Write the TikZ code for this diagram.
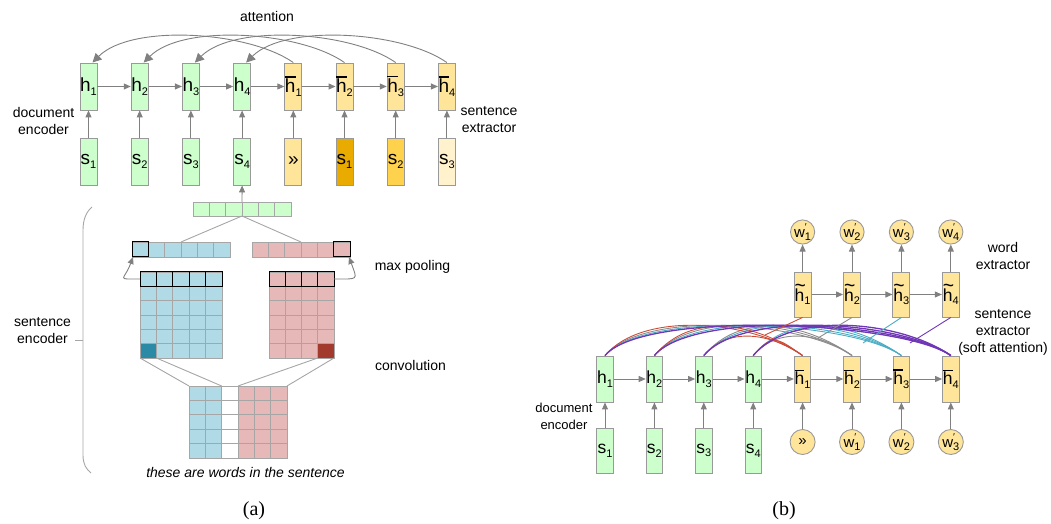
\documentclass[tikz,border=0pt]{standalone}
\usepackage{fontspec}
\setmainfont{Liberation Sans}
\newfontfamily\capfont{Liberation Serif}
\usetikzlibrary{arrows.meta}

\definecolor{boxgreen}{HTML}{CCFFCC}
\definecolor{boxyellow}{HTML}{FFE599}
\definecolor{sdark}{HTML}{E9AB00}
\definecolor{smid}{HTML}{FFD24D}
\definecolor{spale}{HTML}{FFF2CC}
\definecolor{edgegray}{HTML}{999999}
\definecolor{arrgray}{HTML}{808080}
\definecolor{cellgray}{HTML}{A6A6A6}
\definecolor{cellblue}{HTML}{B0DAE6}
\definecolor{cellpink}{HTML}{E6B8B7}
\definecolor{darkteal}{HTML}{2B8AA6}
\definecolor{darkred}{HTML}{A33A2E}
\definecolor{attred}{HTML}{CC4B37}
\definecolor{attgray}{HTML}{8C8C8C}
\definecolor{attcyan}{HTML}{4BACC6}
\definecolor{attpurple}{HTML}{6F36B5}

\newcommand{\lsub}[1]{\raisebox{-0.4ex}{\fontsize{11}{11}\selectfont #1}}
\newcommand{\hh}[1]{h\lsub{#1}}
\newcommand{\hb}[1]{\makebox[0pt][l]{\raisebox{0.8em}{\rule{0.56em}{0.07em}}}h\lsub{#1}}
\newcommand{\hw}[1]{\makebox[0pt][l]{\raisebox{0.5em}{\scalebox{1.1}[1.2]{\textasciitilde}}}h\lsub{#1}}
\newcommand{\sv}[1]{s\lsub{#1}}
\newcommand{\wv}[1]{w\makebox[0pt][l]{\raisebox{0.9ex}{\fontsize{10}{10}\selectfont ′}}\lsub{#1}}

\begin{document}
\begin{tikzpicture}[x=1pt, y=1pt,
    gbox/.style={rectangle, draw=edgegray, line width=0.9pt, fill=boxgreen, minimum width=17, minimum height=47, inner sep=0pt, font=\fontsize{19}{19}\selectfont},
    ybox/.style={gbox, fill=boxyellow},
    rgbox/.style={gbox, minimum width=16.5, minimum height=46, font=\fontsize{17.5}{17.5}\selectfont},
    rybox/.style={rgbox, fill=boxyellow},
    circ/.style={circle, draw=edgegray, line width=0.9pt, fill=boxyellow, minimum size=25, inner sep=0pt, font=\fontsize{15}{15}\selectfont},
    block/.style={rectangle, draw=none, inner sep=0pt, outer sep=0pt},
    lbl/.style={inner sep=0pt, font=\fontsize{14}{17}\selectfont},
    captext/.style={inner sep=0pt, font=\capfont\fontsize{20}{20}\selectfont},
    arr/.style={draw=arrgray, line width=0.9pt, -{Triangle[length=7pt, width=6pt]}},
    bigarr/.style={draw=arrgray, line width=0.9pt, -{Triangle[length=9pt, width=9pt]}},
    ln/.style={draw=cellgray, line width=0.9pt},
    bluecell/.style={draw=cellgray, line width=0.9pt, fill=cellblue},
    pinkcell/.style={draw=cellgray, line width=0.9pt, fill=cellpink},
    greencell/.style={draw=cellgray, line width=0.9pt, fill=boxgreen},
    whitecell/.style={draw=cellgray, line width=0.9pt, fill=white},
    topcell/.style={draw=black, line width=1pt},
    bundle/.style={out=50, in=145, min distance=30, max distance=60},
    redline/.style={draw=attred, line width=0.9pt},
    grayline/.style={draw=attgray, line width=0.9pt},
    cyanline/.style={draw=attcyan, line width=0.9pt},
    purpleline/.style={draw=attpurple, line width=1.3pt}]

    \useasboundingbox (0,0) rectangle (1051,524);

    % (a) document encoder and sentence extractor
    \node[gbox] (11) at (88.5,437.5) {\hh{1}};

    \node[gbox] (12) at (139.7,437.5) {\hh{2}};

    \node[gbox] (13) at (190.9,437.5) {\hh{3}};

    \node[gbox] (14) at (242.1,437.5) {\hh{4}};

    \node[ybox] (15) at (293.3,437.5) {\hb{1}};

    \node[ybox] (16) at (344.5,437.5) {\hb{2}};

    \node[ybox] (17) at (395.7,437.5) {\hb{3}};

    \node[ybox] (18) at (446.9,437.5) {\hb{4}};

    \node[gbox] (21) at (88.5,362.5) {\sv{1}};

    \node[gbox] (22) at (139.7,362.5) {\sv{2}};

    \node[gbox] (23) at (190.9,362.5) {\sv{3}};

    \node[gbox] (24) at (242.1,362.5) {\sv{4}};

    \node[ybox] (25) at (293.3,362.5) {»};

    \node[ybox, fill=sdark] (26) at (344.5,362.5) {\sv{1}};

    \node[ybox, fill=smid] (27) at (395.7,362.5) {\sv{2}};

    \node[ybox, fill=spale] (28) at (446.9,362.5) {\sv{3}};


    \draw[arr] (21) to (11);

    \draw[arr] (22) to (12);

    \draw[arr] (23) to (13);

    \draw[arr] (24) to (14);

    \draw[arr] (25) to (15);

    \draw[arr] (26) to (16);

    \draw[arr] (27) to (17);

    \draw[arr] (28) to (18);

    \draw[arr] (11) to (12);

    \draw[arr] (12) to (13);

    \draw[arr] (13) to (14);

    \draw[arr] (14) to (15);

    \draw[arr] (15) to (16);

    \draw[arr] (16) to (17);

    \draw[arr] (17) to (18);

    % attention
    \draw[bigarr] (15.north) to[out=145, in=45, distance=55] ([xshift=4pt]11.north);

    \draw[bigarr] (16.north) to[out=145, in=45, distance=55] ([xshift=4pt]12.north);

    \draw[bigarr] (17.north) to[out=145, in=45, distance=55] ([xshift=4pt]13.north);

    \draw[bigarr] (18.north) to[out=145, in=45, distance=55] ([xshift=4pt]14.north);

    % (a) sentence encoder
    \foreach \i in {0,...,5}
        \draw[greencell] (193+\i*16.33,308) rectangle ++(16.33,14);

    \foreach \i in {0,...,5}
        \draw[bluecell] (132+\i*16.33,267) rectangle ++(16.33,15);
    \draw[topcell] (132,267) rectangle ++(16.33,15);

    \foreach \i in {0,...,5}
        \draw[pinkcell] (252+\i*16.33,267) rectangle ++(16.33,15);
    \draw[topcell] (333.67,267) rectangle ++(16.33,15);

    \foreach \i in {0,...,4}
        \foreach \j in {0,...,5}
            \draw[bluecell] (140+\i*16.4,166+\j*14.33) rectangle ++(16.4,14.33);
    \draw[ln, fill=darkteal] (140,166) rectangle ++(16.4,14.33);
    \foreach \i in {0,...,4}
        \draw[topcell] (140+\i*16.4,237.67) rectangle ++(16.4,14.33);

    \foreach \i in {0,...,3}
        \foreach \j in {0,...,5}
            \draw[pinkcell] (269+\i*16.25,166+\j*14.33) rectangle ++(16.25,14.33);
    \draw[ln, fill=darkred] (317.75,166) rectangle ++(16.25,14.33);
    \foreach \i in {0,...,3}
        \draw[topcell] (269+\i*16.25,237.67) rectangle ++(16.25,14.33);

    \foreach \i in {0,1}
        \foreach \j in {0,...,4}
            \draw[bluecell] (189+\i*16.33,66+\j*14.4) rectangle ++(16.33,14.4);
    \foreach \j in {0,...,4}
        \draw[whitecell] (221.67,66+\j*14.4) rectangle ++(16.33,14.4);
    \foreach \i in {3,4,5}
        \foreach \j in {0,...,4}
            \draw[pinkcell] (189+\i*16.33,66+\j*14.4) rectangle ++(16.33,14.4);

    \node[block, minimum width=98, minimum height=14] (71) at (242,315) {};

    \node[block, minimum width=98, minimum height=15] (72) at (181,274.5) {};

    \node[block, minimum width=98, minimum height=15] (73) at (301,274.5) {};

    \node[block, minimum width=82, minimum height=86] (74) at (181,209) {};

    \node[block, minimum width=65, minimum height=86] (75) at (301.5,209) {};

    \node[block, minimum width=98, minimum height=72] (76) at (238,102) {};


    \draw[arr] (71.north) to (24.south);

    \draw[ln] (71.south) to (72.north);

    \draw[ln] (71.south) to (73.north);

    \draw[arr] ([yshift=-7pt]74.north west) to[out=180, in=250, min distance=25] ([xshift=1pt]72.south west);

    \draw[arr] ([yshift=-7pt]75.north east) to[out=0, in=290, min distance=25] ([xshift=-1pt]73.south east);

    \draw[ln] (74.south west) to (76.north west);

    \draw[ln] ([xshift=16.4pt]74.south west) to ([xshift=32.67pt]76.north west);

    \draw[ln] ([xshift=-16.25pt]75.south east) to ([xshift=49pt]76.north west);

    \draw[ln] (75.south east) to (76.north east);

    % brace
    \draw[ln] (92,317) .. controls (86,312) and (83,304) .. (83,294) -- (83,69) .. controls (83,60) and (86,55) .. (91,51);
    \draw[ln] (83,184) -- (75,184);

    \node[lbl] (91) at (267,507) {attention};

    \node[lbl, align=center] (92) at (43.5,402.5) {document\\encoder};

    \node[lbl, align=center] (93) at (489,404.5) {sentence\\extractor};

    \node[lbl, align=center] (94) at (42.5,193) {sentence\\encoder};

    \node[lbl] (95) at (412.5,257) {max pooling};

    \node[lbl] (96) at (410.5,159) {convolution};

    \node[lbl, font=\fontsize{14}{17}\selectfont\itshape] (97) at (245.5,51) {these are words in the sentence};

    \node[captext] (98) at (254,13) {(a)};

    % (b) document encoder, sentence and word extractor
    \node[rgbox] (31) at (605,145) {\hh{1}};

    \node[rgbox] (32) at (654.4,145) {\hh{2}};

    \node[rgbox] (33) at (703.8,145) {\hh{3}};

    \node[rgbox] (34) at (753.2,145) {\hh{4}};

    \node[rybox] (35) at (802.6,145) {\hb{1}};

    \node[rybox] (36) at (852,145) {\hb{2}};

    \node[rybox] (37) at (901.4,145) {\hb{3}};

    \node[rybox] (38) at (950.8,145) {\hb{4}};

    \node[rgbox, minimum height=45] (41) at (605,73.5) {\sv{1}};

    \node[rgbox, minimum height=45] (42) at (654.4,73.5) {\sv{2}};

    \node[rgbox, minimum height=45] (43) at (703.8,73.5) {\sv{3}};

    \node[rgbox, minimum height=45] (44) at (753.2,73.5) {\sv{4}};

    \node[circ] (45) at (802.6,82) {»};

    \node[circ] (46) at (852,82) {\wv{1}};

    \node[circ] (47) at (901.4,82) {\wv{2}};

    \node[circ] (48) at (950.8,82) {\wv{3}};

    \node[rybox, minimum width=17, minimum height=45] (51) at (802.6,229.5) {\hw{1}};

    \node[rybox, minimum width=17, minimum height=45] (52) at (852,229.5) {\hw{2}};

    \node[rybox, minimum width=17, minimum height=45] (53) at (901.4,229.5) {\hw{3}};

    \node[rybox, minimum width=17, minimum height=45] (54) at (950.8,229.5) {\hw{4}};

    \node[circ, minimum size=24] (61) at (802.6,292) {\wv{1}};

    \node[circ, minimum size=24] (62) at (852,292) {\wv{2}};

    \node[circ, minimum size=24] (63) at (901.4,292) {\wv{3}};

    \node[circ, minimum size=24] (64) at (950.8,292) {\wv{4}};


    \draw[arr] (41) to (31);

    \draw[arr] (42) to (32);

    \draw[arr] (43) to (33);

    \draw[arr] (44) to (34);

    \draw[arr] (45) to (35);

    \draw[arr] (46) to (36);

    \draw[arr] (47) to (37);

    \draw[arr] (48) to (38);

    \draw[arr] (31) to (32);

    \draw[arr] (32) to (33);

    \draw[arr] (33) to (34);

    \draw[arr] (34) to (35);

    \draw[arr] (35) to (36);

    \draw[arr] (36) to (37);

    \draw[arr] (37) to (38);

    \draw[arr] (51) to (52);

    \draw[arr] (52) to (53);

    \draw[arr] (53) to (54);

    \draw[arr] (51) to (61);

    \draw[arr] (52) to (62);

    \draw[arr] (53) to (63);

    \draw[arr] (54) to (64);

    % soft attention
    \draw[grayline, bundle] (31.north) to (36.north);
    \draw[grayline, bundle] (32.north) to (36.north);
    \draw[grayline, bundle] (33.north) to (36.north);
    \draw[grayline, bundle] (34.north) to (36.north);

    \draw[cyanline, bundle] (31.north) to (37.north);
    \draw[cyanline, bundle] (32.north) to (37.north);
    \draw[cyanline, bundle] (33.north) to (37.north);
    \draw[cyanline, bundle] (34.north) to (37.north);

    \draw[redline, bundle] (31.north) to (35.north);
    \draw[redline, bundle] (32.north) to (35.north);
    \draw[redline, bundle] (33.north) to (35.north);
    \draw[redline, bundle] (34.north) to (35.north);

    \draw[purpleline, bundle] (31.north) to (38.north);
    \draw[purpleline, bundle] (32.north) to (38.north);
    \draw[purpleline, bundle] (33.north) to (38.north);
    \draw[purpleline, bundle] (34.north) to (38.north);

    \coordinate (81) at (765,189);
    \coordinate (82) at (818,186);
    \coordinate (83) at (863,181);
    \coordinate (84) at (910,181);

    \draw[redline] (51.south) to (81);

    \draw[grayline] (52.south) to (82);

    \draw[cyanline] (53.south) to (83);

    \draw[purpleline, line width=0.9pt] (54.south) to (84);

    \node[lbl, align=center, font=\fontsize{13}{17}\selectfont] (99) at (564,108) {document\\encoder};

    \node[lbl, align=center] (100) at (1003,268) {word\\extractor};

    \node[lbl, align=center] (101) at (1003,192) {sentence\\extractor\\(soft attention)};

    \node[captext] (102) at (784,13) {(b)};

\end{tikzpicture}
\end{document}
